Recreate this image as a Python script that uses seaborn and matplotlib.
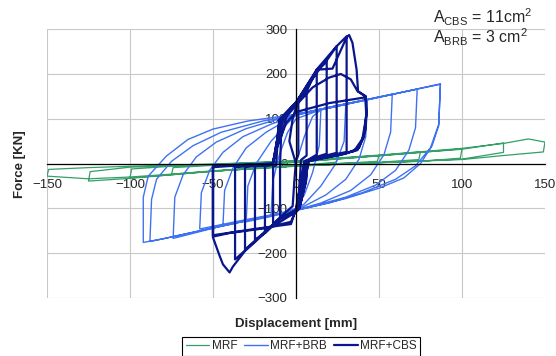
import pandas as pd
import matplotlib
matplotlib.use("Agg")
import matplotlib.pyplot as plt
import seaborn as sns

# MRF hysteresis path (displacement mm, force kN)
mrf_disp = [0, 12, 25, 24, 12, 0, -12, -25, -24, -12, 0,
            25, 50, 49, 25, 0, -25, -50, -49, -25, 0,
            25, 50, 75, 74, 50, 25, 0, -25, -50, -75, -74, -50, -25, 0,
            50, 75, 100, 99, 75, 50, 0, -50, -75, -100, -99, -75, -50, 0,
            50, 100, 125, 125, 100, 50, 0, -50, -100, -125, -124, -100, -50, 0,
            50, 100, 125, 140, 150, 149, 125, 100, 50, 0, -50, -100, -125, -150, -149, -125, -100, -50, 0]
mrf_force = [2, 7, 12, 3, -1, -4, -7, -11, -3, 0, 3,
             10, 18, 5, 0, -5, -10, -17, -6, -2, 4,
             11, 18, 26, 9, 3, 0, -5, -10, -16, -24, -9, -4, -1, 4,
             17, 25, 33, 12, 5, 2, -5, -17, -25, -32, -12, -6, -3, 5,
             18, 32, 46, 25, 10, 2, -5, -17, -33, -39, -18, -8, -2, 6,
             19, 34, 45, 55, 48, 26, 18, 9, 2, -6, -17, -30, -34, -28, -13, -9, -6, -1, 6]

# MRF+BRB hysteresis path
brb_disp = [0, 5, 10, 15, 14, 10, 5, 0, -10, -15, -14, -10, -5, 0,
            15, 30, 29, 24, 15, 5, 0, -15, -30, -29, -24, -15, -5, 0,
            20, 43, 42, 38, 30, 18, 5, 0, -20, -44, -43, -38, -30, -18, -5, 0,
            30, 58, 57, 53, 45, 33, 15, 0, -30, -58, -57, -52, -44, -32, -15, 0,
            40, 73, 72, 68, 60, 48, 30, 10, 0, -40, -74, -73, -68, -60, -48, -30, -10, 0,
            40, 87, 86, 82, 75, 65, 50, 30, 10, 0, -40, -80, -92, -92, -89, -78, -65, -50, -29, 0,
            40, 87, 86, 81, 72, 60, 40, 20, 0, -40, -88, -87, -84, -75, -62, -45, -20, 0]
brb_force = [0, 60, 105, 120, 40, -20, -70, -100, -112, -116, -40, 20, 70, 100,
             120, 132, 50, 0, -50, -90, -104, -118, -130, -50, 0, 50, 90, 108,
             126, 143, 60, 10, -35, -70, -95, -105, -120, -139, -60, -10, 35, 70, 98, 110,
             133, 155, 70, 20, -25, -60, -88, -104, -125, -146, -65, -15, 25, 60, 88, 108,
             140, 166, 80, 30, -15, -48, -75, -95, -104, -135, -167, -75, -25, 15, 48, 78, 100, 110,
             141, 177, 85, 40, 0, -32, -55, -78, -96, -105, -135, -168, -176, -75, -28, 17, 54, 77, 95, 110,
             140, 178, 88, 35, -5, -35, -65, -88, -104, -136, -174, -80, -35, 5, 40, 70, 95, 108]

# MRF+CBS hysteresis path
cbs_disp = [0, -4, -2, 0, 1.4, 1.4, 0, -1, -2, -9.6, -9.6,
            -9, -5, 0, 6.4, 6.4, 3, 2, 0, -13.8, -13.8, -12,
            -11, -9, 0, 6.4, 12.5, 12.5, 8, 5, 3, 0, -9.6, -18.7, -18.7, -14,
            -12, -9, 0, 12.5, 18.5, 18.5, 10, 6, 4, 1, -9.6, -18.7, -24.7, -24.7, -14,
            -12, -9, 0, 12.5, 18.5, 24.5, 24.5, 14, 7, 5, 2, -9.6, -24.7, -30.7, -30.7, -14,
            -12, -10, 0, 12.5, 24.5, 30.5, 30.5, 15, 7, 6, 2, -9.6, -30.7, -36.7, -36.7, -14,
            -12, -10, 0, 14, 22, 30.5, 32, 34, 36.5, 37.4, 42, 42.5, 42, 38, 30, 15, 7,
            6, 2, -9.6, -30.7, -38, -40, -44, -46, -50, -50, -30, -14,
            -12, -8, 0, 10, 20, 27, 33, 37, 42, 42.3, 41, 37, 25, 8,
            5, 1, -3, -20, -40, -50, -50, -30, -14,
            -12, -6, 0, 20, 42, 42.3, 40, 35, 20, 5,
            3, 0, -3, -25, -50, -50]
cbs_force = [0, 50, 100, 125, 136, 20, 8, -40, -95, -120, -5,
             60, 115, 132, 161, 18, 8, -60, -108, -140, -6, -4,
             50, 100, 133, 161, 210, 20, 10, 5, -60, -110, -120, -155, -6, -3,
             40, 98, 135, 205, 228, 22, 12, 5, -60, -105, -122, -155, -170, -6, -2,
             40, 98, 136, 208, 230, 262, 24, 14, 6, -50, -100, -122, -172, -192, -7, -2,
             30, 98, 136, 210, 262, 284, 26, 14, 6, -40, -100, -122, -194, -214, -8, -2,
             30, 98, 137, 210, 212, 282, 287, 270, 210, 161, 150, 120, 76, 35, 22, 12, 6,
             -40, -100, -124, -195, -230, -243, -225, -206, -165, -5, -2, 0,
             30, 95, 130, 170, 192, 200, 188, 162, 150, 110, 60, 30, 18, 6,
             -40, -95, -130, -145, -155, -163, -8, -3, 0,
             30, 90, 115, 135, 148, 105, 55, 28, 15, 4,
             -40, -100, -135, -146, -160, -10]

x_ticks = [-150, -100, -50, 0, 50, 100, 150]
y_ticks = [-300, -200, -100, 0, 100, 200, 300]

sns.set_style("white")
plt.rcParams["font.family"] = ["Liberation Sans", "DejaVu Sans"]
plt.rcParams["mathtext.fontset"] = "custom"
plt.rcParams["mathtext.rm"] = "Liberation Sans"
plt.rcParams["mathtext.it"] = "Liberation Sans:italic"

fig = plt.figure(figsize=(5.56, 3.56), dpi=100)
ax = fig.add_axes([0.0845, 0.163, 0.8957, 0.755])

mrf = pd.DataFrame({"disp": mrf_disp, "force": mrf_force})
brb = pd.DataFrame({"disp": brb_disp, "force": brb_force})
cbs = pd.DataFrame({"disp": cbs_disp, "force": cbs_force})

sns.lineplot(data=mrf, x="disp", y="force", sort=False, estimator=None,
             color="#33a066", lw=0.9, label="MRF", ax=ax)
sns.lineplot(data=brb, x="disp", y="force", sort=False, estimator=None,
             color="#3f72f0", lw=1.0, label="MRF+BRB", ax=ax)
sns.lineplot(data=cbs, x="disp", y="force", sort=False, estimator=None,
             color="#0a168c", lw=1.6, label="MRF+CBS", ax=ax)

ax.set_xlim(-150, 150)
ax.set_ylim(-300, 300)
ax.set_xticks(x_ticks)
ax.set_yticks(y_ticks)
ax.grid(True, color="#c8c8c8", lw=0.8)
ax.set_axisbelow(True)
for s in ["top", "right"]:
    ax.spines[s].set_visible(False)
ax.spines["left"].set_position(("data", 0))
ax.spines["bottom"].set_position(("data", 0))
for s in ["left", "bottom"]:
    ax.spines[s].set_color("black")
    ax.spines[s].set_linewidth(0.9)
    ax.spines[s].set_zorder(5)
ax.tick_params(axis="y", direction="out", length=4, width=0.8, pad=2, labelsize=9.5)
ax.tick_params(axis="x", direction="out", length=3, width=0.8, pad=8, labelsize=9.5)
ax.set_xlabel("")
ax.set_ylabel("")

fig.text(0.532, 0.09, "Displacement [mm]", ha="center", va="center",
         fontsize=9.5, fontweight="bold")
fig.text(0.036, 0.54, "Force [KN]", ha="center", va="center",
         rotation=90, fontsize=9.5, fontweight="bold")

fig.text(0.779, 0.935, r"A$_{\mathrm{CBS}}$ = 11cm$^{\mathrm{2}}$", fontsize=11.5, va="baseline")
fig.text(0.779, 0.879, r"A$_{\mathrm{BRB}}$ = 3 cm$^{\mathrm{2}}$", fontsize=11.5, va="baseline")

handles, labels = ax.get_legend_handles_labels()
ax.get_legend().remove()
leg = fig.legend(handles, labels, loc="center", bbox_to_anchor=(0.542, 0.027),
                 ncol=3, fontsize=8.5, frameon=True, fancybox=False,
                 edgecolor="black", framealpha=1, handlelength=2.0,
                 handletextpad=0.2, columnspacing=0.6, borderpad=0.3)
leg.get_frame().set_linewidth(0.8)

fig.savefig("out.png", dpi=100)
